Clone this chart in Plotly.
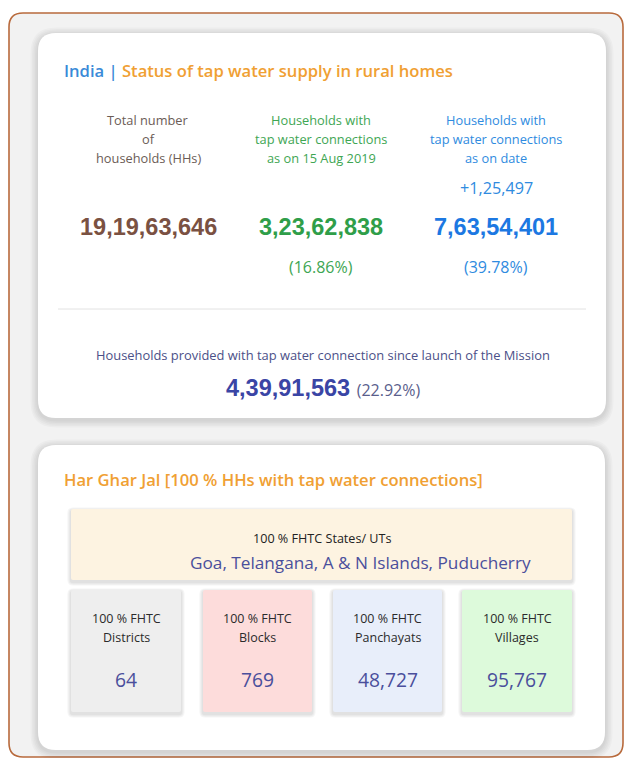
import plotly.graph_objects as go

# ---------------- data ----------------
title_region = "India"
title_text = "Status of tap water supply in rural homes"
col_headers = [
    ["Total number", "of", "households (HHs)"],
    ["Households with", "tap water connections", "as on 15 Aug 2019"],
    ["Households with", "tap water connections", "as on date"],
]
col_values = [191963646, 32362838, 76354401]
col_percents = [None, 16.86, 39.78]
daily_increment = 125497
mission_label = "Households provided with tap water connection since launch of the Mission"
mission_value = 43991563
mission_percent = 22.92
hgj_title = "Har Ghar Jal [100 % HHs with tap water connections]"
states_label = "100 % FHTC States/ UTs"
states_list = ["Goa", "Telangana", "A & N Islands", "Puducherry"]
tile_labels = ["Districts", "Blocks", "Panchayats", "Villages"]
tile_values = [64, 769, 48727, 95767]


def indian(n):
    s = str(n)
    if len(s) <= 3:
        return s
    head, tail = s[:-3], s[-3:]
    parts = []
    while len(head) > 2:
        parts.insert(0, head[-2:])
        head = head[:-2]
    if head:
        parts.insert(0, head)
    return ",".join(parts + [tail])


def rr(x0, y0, x1, y1, r):
    return (f"M {x0+r},{y0} L {x1-r},{y0} Q {x1},{y0} {x1},{y0+r} "
            f"L {x1},{y1-r} Q {x1},{y1} {x1-r},{y1} L {x0+r},{y1} "
            f"Q {x0},{y1} {x0},{y1-r} L {x0},{y0+r} Q {x0},{y0} {x0+r},{y0} Z")


W, H = 626, 758
shapes = []
ann = []

BODY = "Open Sans"
NUM = "Liberation Sans"


def box(x0, y0, x1, y1, r, fill, line=None, lw=0):
    shapes.append(dict(type="path", path=rr(x0, y0, x1, y1, r), fillcolor=fill,
                       line=dict(color=line or "rgba(0,0,0,0)", width=lw), layer="below"))


def shadow(x0, y0, x1, y1, r, steps=5, spread=1.5, alpha=0.025, dy=2):
    for i in range(steps, 0, -1):
        s = i * spread
        box(x0 - s, y0 - s + dy, x1 + s, y1 + s + dy, r + s, f"rgba(0,0,0,{alpha})")


def text(x, y, t, size, color, family=BODY, weight=None, xanchor="center"):
    f = dict(size=size, color=color, family=family)
    if weight:
        f["weight"] = weight
    ann.append(dict(x=x, y=y, text=t, showarrow=False, font=f, xanchor=xanchor,
                    yanchor="middle", xref="x", yref="y"))


# outer frame
box(9, 13, 623, 757, 14, "#f2f2f2", "#b86a3c", 1.6)

# card 1
shadow(38, 33, 606, 418, 18)
box(38, 33, 606, 418, 18, "#ffffff")
text(62, 70, f"<span style='color:#3a8ad8'>{title_region} | </span>{title_text}",
     16.6, "#f0a033", weight=600, xanchor="left")

col_x = [148, 321, 496]
head_colors = ["#6b5c56", "#3ea653", "#2f8be0"]
val_colors = ["#7a5142", "#2f9e49", "#1c78e2"]
for i, cx in enumerate(col_x):
    for j, line in enumerate(col_headers[i]):
        text(cx, 120 + 19 * j, line, 12.8, head_colors[i])
    text(cx, 227, indian(col_values[i]), 23.5, val_colors[i], family=NUM, weight="bold")
    if col_percents[i] is not None:
        text(cx, 267, f"({col_percents[i]:.2f}%)", 16, head_colors[i])
text(col_x[2], 188, "+" + indian(daily_increment), 16.2, head_colors[2])

shapes.append(dict(type="line", x0=58, x1=586, y0=309, y1=309,
                   line=dict(color="#e2e2e2", width=1)))
text(323, 355, mission_label, 12.9, "#4b5088")
text(323, 388, f"<b>{indian(mission_value)}</b> <span style='font-family:{BODY};font-size:16px;color:#5a5e8c'>({mission_percent:.2f}%)</span>",
     23.5, "#3a45a5", family=NUM)

# card 2
shadow(38, 445, 605, 750, 18)
box(38, 445, 605, 750, 18, "#ffffff")
text(62, 479, hgj_title, 16.6, "#f0a033", weight=600, xanchor="left")

shadow(71, 509, 572, 580, 2, steps=3, spread=1.2, alpha=0.04)
box(71, 509, 572, 580, 2, "#fdf3e1")
text(322, 538, states_label, 12.6, "#222222")
text(360, 562, ", ".join(states_list), 17.2, "#4a4f9c")

tile_x = [(71, 181), (203, 312), (333, 442), (462, 572)]
tile_fill = ["#eeeeee", "#fddcdb", "#e8eefa", "#ddfadb"]
for (x0, x1), fill, lab, val in zip(tile_x, tile_fill, tile_labels, tile_values):
    shadow(x0, 590, x1, 712, 2, steps=3, spread=1.2, alpha=0.04)
    box(x0, 590, x1, 712, 2, fill)
    cx = (x0 + x1) / 2
    text(cx, 618, "100 % FHTC", 12.5, "#2b2b2b")
    text(cx, 637, lab, 12.5, "#2b2b2b")
    text(cx, 679, indian(val), 19.3, "#4a4f9c")

fig = go.Figure()
fig.add_trace(go.Scatter(x=[0, W], y=[0, H], mode="markers",
                         marker=dict(opacity=0), hoverinfo="skip", showlegend=False))
fig.update_layout(
    width=W, height=H, margin=dict(l=0, r=0, t=0, b=0),
    paper_bgcolor="#ffffff", plot_bgcolor="#ffffff",
    xaxis=dict(range=[0, W], visible=False, fixedrange=True),
    yaxis=dict(range=[H, 0], visible=False, fixedrange=True),
    shapes=shapes, annotations=ann,
)
fig.write_html("out.html", config={"displayModeBar": False},
               post_script="document.body.style.margin='0';document.body.style.overflow='hidden';")
